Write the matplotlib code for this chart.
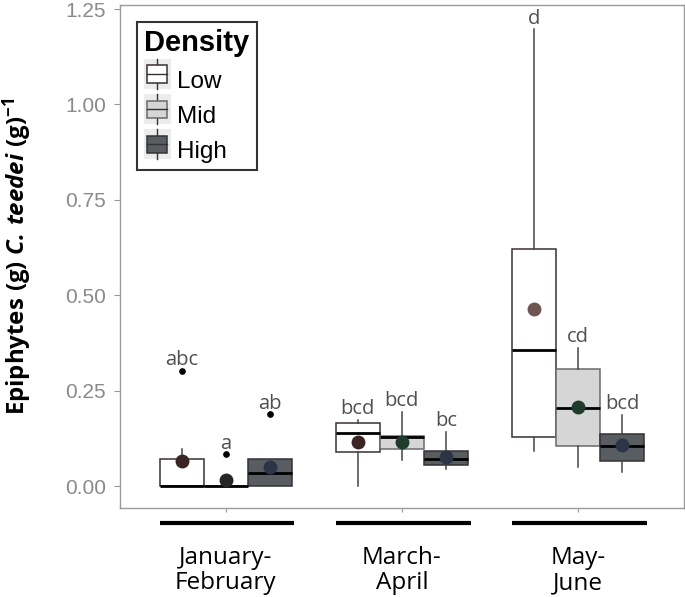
import numpy as np
import matplotlib
matplotlib.use("Agg")
import matplotlib.pyplot as plt
from matplotlib.legend_handler import HandlerBase
from matplotlib.patches import Rectangle
from matplotlib.lines import Line2D
import matplotlib.transforms as mtransforms

# ---------------------------------------------------------
# DATA
# ---------------------------------------------------------
seasons = ["January-\nFebruary", "March-\nApril", "May-\nJune"]
densities = ["Low", "Mid", "High"]

# rows = season, cols = density
q1      = [[0.000, 0.000, 0.000], [0.090, 0.097, 0.056], [0.129, 0.106, 0.065]]
medians = [[0.000, 0.000, 0.033], [0.138, 0.129, 0.071], [0.356, 0.204, 0.106]]
q3      = [[0.071, 0.000, 0.071], [0.165, 0.131, 0.092], [0.621, 0.307, 0.137]]
wlo     = [[0.000, 0.000, 0.000], [0.000, 0.068, 0.045], [0.093, 0.051, 0.036]]
whi     = [[0.097, 0.000, 0.071], [0.173, 0.194, 0.142], [1.197, 0.363, 0.186]]
means   = [[0.066, 0.015, 0.051], [0.116, 0.115, 0.077], [0.463, 0.208, 0.108]]
outliers = [[[0.302], [0.083], [0.188]], [[], [], []], [[], [], []]]
letters = [["abc", "a", "ab"], ["bcd", "bcd", "bc"], ["d", "cd", "bcd"]]

# ---------------------------------------------------------
# STYLE
# ---------------------------------------------------------
FILL = {"Low": "#ffffff", "Mid": "#d6d6d6", "High": "#595c61"}
EDGE = {"Low": "#3a3030", "Mid": "#6a6a6a", "High": "#333336"}
MEAN_COL = [["#3b2424", "#262626", "#2c3547"],
            ["#3b2424", "#1f3b2b", "#2c3547"],
            ["#6e5550", "#1f3b2b", "#2c3547"]]
OFFS = [-0.25, 0.0, 0.25]
WIDTH = 0.25

plt.rcParams["mathtext.fontset"] = "custom"
plt.rcParams["mathtext.bf"] = "Open Sans:bold"
plt.rcParams["mathtext.bfit"] = "Open Sans:italic:bold"
plt.rcParams["mathtext.rm"] = "Open Sans"
plt.rcParams["mathtext.it"] = "Open Sans:italic"

fig = plt.figure(figsize=(6.85, 5.97), dpi=100)
ax = fig.add_axes([0.175, 0.149, 0.8235, 0.8426])

for i in range(len(seasons)):
    for j, dens in enumerate(densities):
        pos = i + 1 + OFFS[j]
        st = dict(q1=q1[i][j], med=medians[i][j], q3=q3[i][j],
                  whislo=wlo[i][j], whishi=whi[i][j], fliers=outliers[i][j])
        ax.bxp([st], positions=[pos], widths=WIDTH, patch_artist=True,
               showcaps=False, showmeans=False,
               boxprops=dict(facecolor=FILL[dens], edgecolor=EDGE[dens], linewidth=1.1),
               medianprops=dict(color="black", linewidth=2),
               whiskerprops=dict(color="#444444", linewidth=1.1),
               flierprops=dict(marker="o", markersize=3.8, markerfacecolor="black",
                               markeredgecolor="black"))
        ax.plot(pos, means[i][j], "o", markersize=9, color=MEAN_COL[i][j], zorder=5)
        top = max([whi[i][j]] + outliers[i][j])
        ax.annotate(letters[i][j], (pos, top), xytext=(0, 4), textcoords="offset points",
                    ha="center", va="baseline", fontsize=14.5, color="#505050",
                    family="Open Sans")

ax.set_xlim(0.4, 3.6)
ax.set_ylim(-0.0577, 1.2605)
ax.set_yticks([0, 0.25, 0.5, 0.75, 1.0, 1.25])
ax.set_yticklabels(["0.00", "0.25", "0.50", "0.75", "1.00", "1.25"])
ax.set_xticks([1, 2, 3])
ax.set_xticklabels(seasons, fontsize=17.5, family="Open Sans", linespacing=1.1)
ax.tick_params(axis="x", length=3, color="#999999", pad=24)
ax.tick_params(axis="y", length=4, color="#999999", pad=6, labelsize=15,
               labelcolor="#8a8a8a")
for lab in ax.get_yticklabels():
    lab.set_family("Liberation Sans")
for sp in ax.spines.values():
    sp.set_color("#9a9a9a")
    sp.set_linewidth(1.0)

# group bars under the axis
trans = mtransforms.blended_transform_factory(ax.transData, ax.transAxes)
for i in range(len(seasons)):
    ax.plot([i + 1 - 0.375, i + 1 + 0.39], [-0.03, -0.03], color="black",
            linewidth=3, transform=trans, clip_on=False, solid_capstyle="butt")

ax.set_ylabel(r"$\mathbf{Epiphytes\ (g)}\ \mathbfit{C.\,teedei}\ \mathbf{(g)}^{\mathbf{-1}}$",
              fontsize=17.3)
ax.yaxis.set_label_coords(-0.152, 0.5)


# legend with mini box glyphs
class BoxHandler(HandlerBase):
    def create_artists(self, legend, orig, xd, yd, w, h, fontsize, trans):
        fc = orig.get_facecolor()
        ec = orig.get_edgecolor()
        bw = w * 0.75
        x0 = xd + (w - bw) / 2
        bg = Rectangle((xd, yd - 3), w, h + 6, facecolor="#ececec", edgecolor="none",
                       transform=trans)
        r = Rectangle((x0, yd + 0.1 * h), bw, 0.8 * h, facecolor=fc, edgecolor=ec,
                      linewidth=1.1, transform=trans)
        cx = xd + w / 2
        wl = Line2D([cx, cx], [yd - 3, yd + h + 3], color="#333333", linewidth=1,
                    transform=trans)
        md = Line2D([x0, x0 + bw], [yd + h / 2, yd + h / 2], color="#333333",
                    linewidth=1, transform=trans)
        return [bg, wl, r, md]


handles = [Rectangle((0, 0), 1, 1, facecolor=FILL[d], edgecolor=EDGE[d]) for d in densities]
leg = ax.legend(handles, densities, title="Density", loc="upper left",
                bbox_to_anchor=(0.030, 0.966), borderaxespad=0,
                handler_map={Rectangle: BoxHandler()},
                title_fontproperties={"weight": "bold", "size": 21, "family": "Liberation Sans"},
                prop={"family": "Liberation Sans", "size": 17.5},
                frameon=True, fancybox=False, handlelength=1.1, handleheight=1.0,
                handletextpad=0.25, labelspacing=0.45, borderpad=0.3)
leg.get_frame().set_edgecolor("black")
leg.get_frame().set_linewidth(1.5)
leg._legend_box.align = "left"

fig.savefig("out.png", dpi=100)
